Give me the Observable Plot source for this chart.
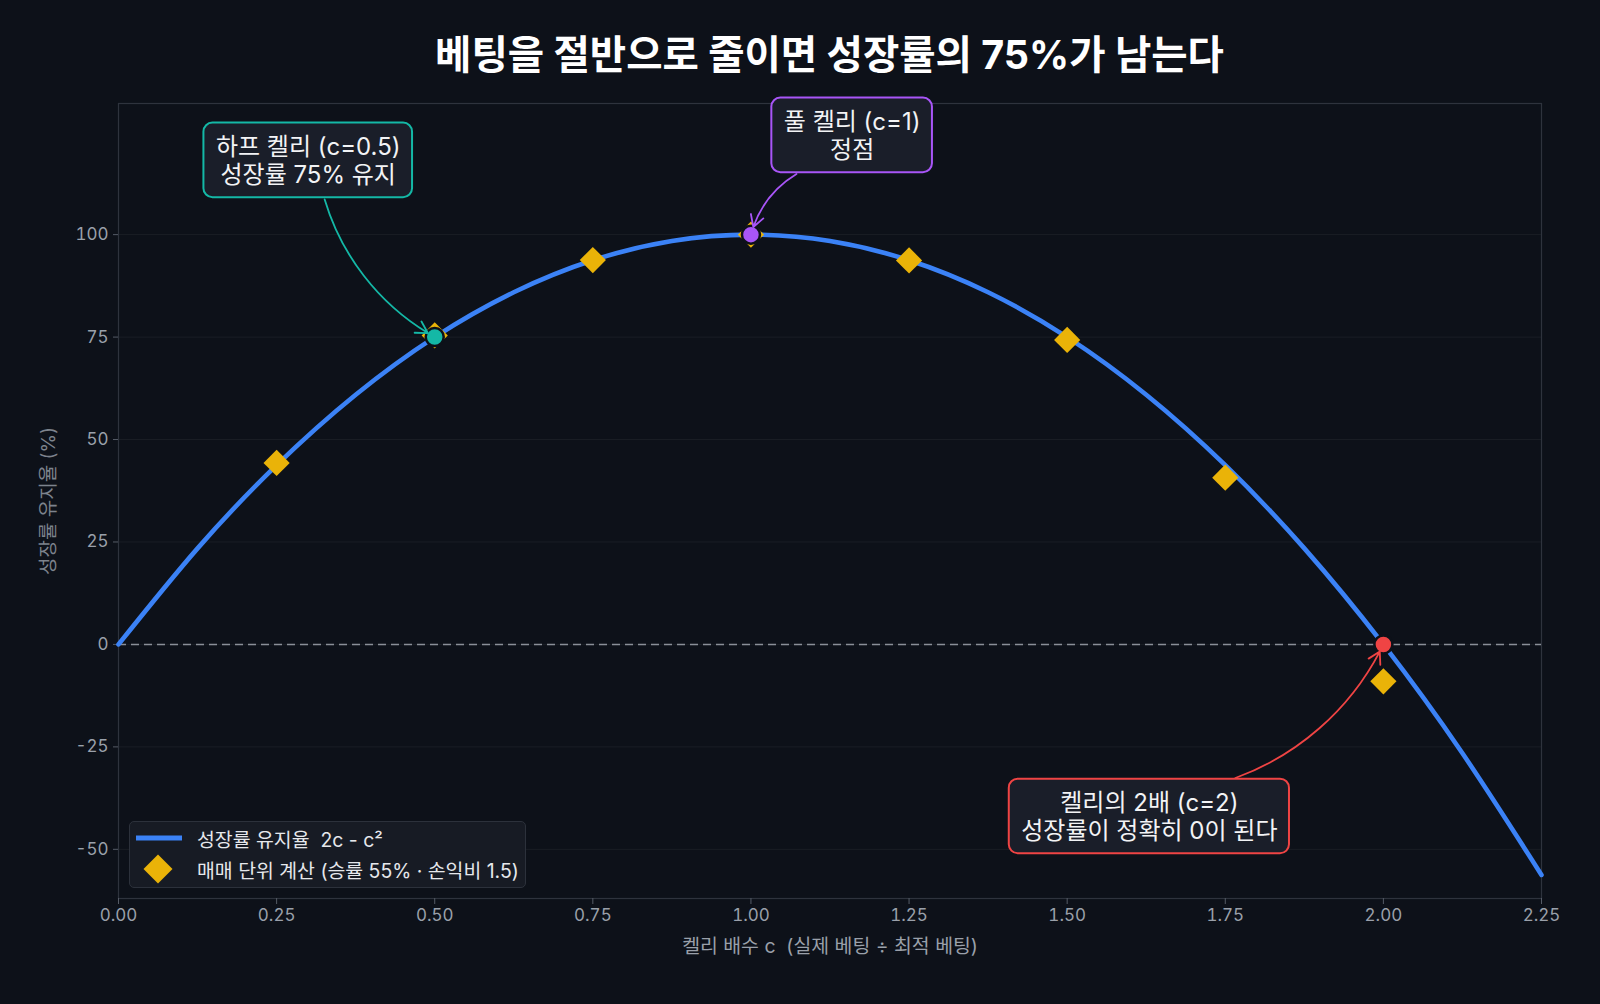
<!DOCTYPE html>
<html>
<head>
<meta charset="utf-8">
<script src="https://cdn.jsdelivr.net/npm/d3@7"></script>
<script src="https://cdn.jsdelivr.net/npm/@observablehq/plot@0.6"></script>
<style>
  html, body { margin: 0; padding: 0; background: #0d1119; }
  body { width: 1600px; height: 1004px; overflow: hidden; font-family: Inter, "Noto Sans CJK KR", "Noto Sans", sans-serif; }
  #title { height: 90px; box-sizing: border-box; padding: 36px 59px 0 118px; text-align: center; color: #ffffff; font-size: 39.5px; font-weight: 700; line-height: 1; }
  #wrap { position: relative; width: 1600px; height: 914px; }
  #legend { position: absolute; left: 129px; top: 731px; width: 397px; height: 67px; box-sizing: border-box; background: #171b24; border: 1px solid #2c313b; border-radius: 5px; color: #e6e8ec; font-size: 19.4px; }
  .row { position: absolute; left: 0; height: 30px; display: flex; align-items: center; white-space: pre; }
  .row svg { display: block; }
</style>
</head>
<body>
<div id="title">베팅을 절반으로 줄이면 성장률의 75%가 남는다</div>
<div id="wrap">
  <div id="legend">
    <div class="row" style="top:1px;"><svg width="67" height="30"><line x1="6" x2="52" y1="15" y2="15" stroke="#3b82f6" stroke-width="5"/></svg>성장률 유지율  2c - c²</div>
    <div class="row" style="top:32px;"><svg width="67" height="30"><path d="M28,0.5 L42.5,15 L28,29.5 L13.5,15 Z" fill="#eab308"/></svg>매매 단위 계산 (승률 55% · 손익비 1.5)</div>
  </div>
</div>
<script>
// Theoretical curve 2c - c² (percent), read at c steps of 0.125
const curveC = [0, 0.125, 0.25, 0.375, 0.5, 0.625, 0.75, 0.875, 1.0, 1.125, 1.25, 1.375, 1.5, 1.625, 1.75, 1.875, 2.0, 2.125, 2.25];
const curveY = [0, 23.44, 43.75, 60.94, 75, 85.94, 93.75, 98.44, 100, 98.44, 93.75, 85.94, 75, 60.94, 43.75, 23.44, 0, -26.56, -56.25];

// Per-trade calculation (win rate 55%, payoff 1.5)
const tradeC = [0.25, 0.5, 0.75, 1.0, 1.25, 1.5, 1.75, 2.0];
const tradeY = [44.3, 75.4, 93.8, 100, 93.7, 74.3, 40.7, -9.0];

// Highlighted points
const hiC = [0.5, 1.0, 2.0];
const hiY = [75, 100, 0];
const hiColor = ["#14b8a6", "#a855f7", "#ef4444"];

// Annotations: label anchor (c, y), arrow start (c, y)
const annText = ["하프 켈리 (c=0.5)\n성장률 75% 유지", "풀 켈리 (c=1)\n정점", "켈리의 2배 (c=2)\n성장률이 정확히 0이 된다"];
const annC = [0.300, 1.160, 1.630];
const annY = [118.2, 124.3, -41.9];
const arrowC = [0.326, 1.072, 1.766];
const arrowY = [108.6, 114.8, -32.6];

const xTicks = [0, 0.25, 0.5, 0.75, 1.0, 1.25, 1.5, 1.75, 2.0, 2.25];
const yTicks = [-50, -25, 0, 25, 50, 75, 100];
const xLabel = "켈리 배수 c\u00a0\u00a0(실제 베팅 ÷ 최적 베팅)";
const yLabel = "성장률 유지율 (%)";

const curve = curveC.map((c, i) => ({c, y: curveY[i]}));
const trades = tradeC.map((c, i) => ({c, y: tradeY[i]}));
const hi = hiC.map((c, i) => ({c, y: hiY[i], color: hiColor[i]}));
const arrows = hi.map((h, i) => ({x1: arrowC[i], y1: arrowY[i], x2: h.c, y2: h.y, color: h.color}));

const font = 'Inter, "Noto Sans CJK KR", "Noto Sans", sans-serif';

const chart = Plot.plot({
  width: 1600,
  height: 914,
  marginTop: 13,
  marginLeft: 118,
  marginRight: 59,
  marginBottom: 106,
  style: {background: "transparent", color: "#9aa0aa", fontSize: "17px", fontFamily: font, overflow: "visible"},
  x: {domain: [0, 2.25]},
  y: {domain: [-62, 132]},
  marks: [
    Plot.gridY(yTicks, {stroke: "#ffffff", strokeOpacity: 0.055}),
    Plot.frame({stroke: "#2e333d", strokeWidth: 1.2}),
    Plot.axisX({ticks: xTicks, tickFormat: d3.format(".2f"), tickSize: 6, tickPadding: 4, fontSize: 17, stroke: "#555b66", fill: "#9aa0aa", label: null}),
    Plot.axisY({ticks: yTicks, tickFormat: d => String(d), tickSize: 5, tickPadding: 5, fontSize: 17, stroke: "#555b66", fill: "#9aa0aa", label: null}),
    Plot.text([xLabel], {frameAnchor: "bottom", dy: 54, fontSize: 19.4, fill: "#9aa0aa"}),
    Plot.text([yLabel], {frameAnchor: "left", textAnchor: "middle", rotate: -90, dx: -70, fontSize: 19, fill: "#7d838d"}),
    Plot.ruleY([0], {stroke: "#8a8f98", strokeDasharray: "8,5", strokeWidth: 1.6}),
    Plot.line(curve, {x: "c", y: "y", stroke: "#3b82f6", strokeWidth: 4.6, curve: "natural"}),
    Plot.dot(trades, {x: "c", y: "y", symbol: "diamond2", fill: "#eab308", stroke: "none", r: 11.8}),
    Plot.dot(hi, {x: "c", y: "y", fill: "color", stroke: "#0d1119", strokeWidth: 2.5, r: 9}),
    Plot.arrow(arrows, {x1: "x1", y1: "y1", x2: "x2", y2: "y2", stroke: "color", strokeWidth: 1.8, bend: -22, headLength: 11, insetEnd: 8}),
    ...annText.map((t, i) => Plot.text([t], {x: () => annC[i], y: () => annY[i], text: d => d, fontSize: 24, lineHeight: 1.15, fill: "#f2f3f5", className: "ann-" + i}))
  ]
});

const wrap = document.getElementById("wrap");
wrap.insertBefore(chart, wrap.firstChild);

// draw rounded boxes behind annotation texts
annText.forEach((t, i) => {
  const g = chart.querySelector("g.ann-" + i) || chart.querySelector(".ann-" + i);
  if (!g) return;
  const b = g.getBBox();
  const padX = 12, padY = 9;
  const r = document.createElementNS("http://www.w3.org/2000/svg", "rect");
  r.setAttribute("x", b.x - padX);
  r.setAttribute("y", b.y - padY);
  r.setAttribute("width", b.width + 2 * padX);
  r.setAttribute("height", b.height + 2 * padY);
  r.setAttribute("rx", 9);
  r.setAttribute("fill", "#1a1e29");
  r.setAttribute("stroke", hiColor[i]);
  r.setAttribute("stroke-width", 2);
  g.parentNode.insertBefore(r, g);
});
</script>
</body>
</html>
